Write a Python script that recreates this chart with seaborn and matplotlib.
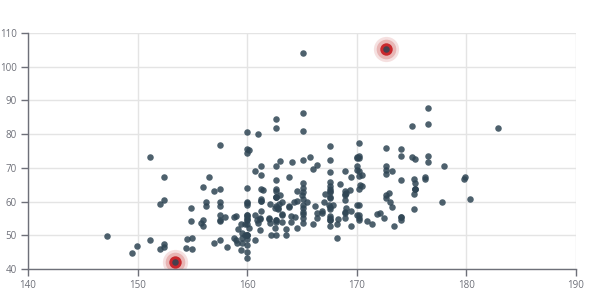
import matplotlib
matplotlib.use("Agg")
import matplotlib.pyplot as plt
import seaborn as sns
import pandas as pd

heights = [161.2, 167.5, 159.5, 157.0, 155.8, 170.0, 159.1, 166.0, 176.2, 160.2,
           172.5, 170.9, 172.9, 153.4, 160.0, 147.2, 168.2, 175.0, 157.0, 167.6,
           159.5, 175.0, 166.8, 176.5, 170.2, 174.0, 173.0, 179.9, 170.5, 160.0,
           154.4, 162.0, 176.5, 160.0, 152.0, 162.1, 170.0, 160.2, 161.3, 166.4,
           168.9, 163.8, 167.6, 160.0, 161.3, 167.6, 165.1, 160.0, 170.0, 157.5,
           167.6, 160.7, 163.2, 152.4, 157.5, 168.3, 180.3, 165.5, 165.0, 164.5,
           156.0, 160.0, 163.0, 165.7, 161.0, 162.0, 166.0, 174.0, 172.7, 167.6,
           151.1, 164.5, 163.5, 152.0, 169.0, 164.0, 161.2, 155.0, 170.0, 176.2,
           170.0, 162.5, 170.3, 164.1, 169.5, 163.2, 154.5, 159.8, 173.2, 170.0,
           161.4, 169.0, 166.2, 159.4, 162.5, 159.0, 162.8, 159.0, 179.8, 162.9,
           161.0, 151.1, 168.2, 168.9, 173.2, 171.8, 178.0, 164.3, 163.0, 168.5,
           166.8, 172.7, 163.5, 169.4, 167.8, 159.5, 167.6, 161.2, 160.0, 163.2,
           162.2, 161.3, 149.5, 157.5, 163.2, 172.7, 155.0, 156.5, 164.0, 160.9,
           162.8, 167.0, 160.0, 160.0, 168.9, 158.2, 156.0, 160.0, 167.1, 158.0,
           167.6, 156.0, 162.1, 173.4, 159.8, 170.5, 159.2, 157.5, 161.3, 162.6,
           160.0, 168.9, 165.1, 162.6, 165.1, 166.4, 160.0, 152.4, 170.2, 162.6,
           170.2, 158.8, 172.7, 167.6, 162.6, 167.6, 156.2, 175.2, 172.1, 162.6,
           160.0, 165.1, 182.9, 166.4, 165.1, 177.8, 165.1, 175.3, 154.9, 158.8,
           172.7, 168.9, 161.3, 167.6, 165.1, 175.3, 157.5, 163.8, 167.6, 165.1,
           165.1, 168.9, 162.6, 164.5, 176.5, 168.9, 175.3, 159.4, 160.0, 170.2,
           162.6, 167.6, 162.6, 160.7, 160.0, 157.5, 162.6, 152.4, 170.2, 165.1,
           172.7, 165.1, 170.2, 170.2, 170.2, 161.3, 167.6, 167.6, 165.1, 162.6,
           152.4, 168.9, 170.2, 175.2, 175.2, 160.0, 165.1, 174.0, 170.2, 160.0,
           167.6, 167.6, 167.6, 154.9, 162.6, 175.3, 171.4, 157.5, 165.1, 160.0,
           174.0, 162.6, 174.0, 162.6, 161.3, 156.2, 149.9, 169.5, 160.0, 175.3,
           169.5, 160.0, 172.7, 162.6, 157.5, 176.5, 164.4, 160.7, 174.0, 163.8]
weights = [51.6, 59.0, 49.2, 63.0, 53.6, 59.0, 47.6, 69.8, 66.8, 75.2,
           55.2, 54.2, 62.5, 42.0, 50.0, 49.8, 49.2, 73.2, 47.8, 68.8,
           50.6, 82.5, 57.2, 87.8, 72.8, 54.5, 59.8, 67.3, 67.8, 47.0,
           46.2, 55.0, 83.0, 54.4, 45.8, 53.6, 73.2, 52.1, 67.9, 56.6,
           62.3, 58.5, 54.5, 50.2, 60.3, 58.3, 56.2, 50.2, 72.9, 59.8,
           61.0, 69.1, 55.9, 46.5, 54.3, 54.8, 60.7, 60.0, 62.0, 60.3,
           52.7, 74.3, 62.0, 73.1, 80.0, 54.7, 53.2, 75.7, 61.1, 55.7,
           48.7, 52.3, 50.0, 59.3, 62.5, 55.7, 54.8, 45.9, 70.6, 67.2,
           69.4, 58.2, 64.8, 71.6, 52.8, 59.8, 49.0, 50.0, 69.2, 55.9,
           63.4, 58.2, 58.6, 45.7, 52.2, 48.6, 57.8, 55.6, 66.8, 59.4,
           53.6, 73.2, 53.4, 69.0, 58.4, 56.2, 70.6, 59.8, 72.0, 65.2,
           56.6, 105.2, 51.8, 63.4, 59.0, 47.6, 63.0, 55.2, 45.0, 54.0,
           50.2, 60.2, 44.8, 58.8, 56.4, 62.0, 49.2, 67.2, 53.8, 54.4,
           58.0, 59.8, 54.8, 43.2, 60.5, 46.4, 64.4, 48.8, 62.2, 55.5,
           57.8, 54.6, 59.2, 52.7, 53.2, 64.5, 51.8, 56.0, 63.6, 63.2,
           59.5, 56.8, 64.1, 50.0, 72.3, 55.0, 55.9, 60.4, 69.1, 84.5,
           55.9, 55.5, 69.5, 76.4, 61.4, 65.9, 58.6, 66.8, 56.6, 58.6,
           55.9, 59.1, 81.8, 70.7, 56.8, 60.0, 58.2, 72.7, 54.1, 49.1,
           75.9, 55.0, 57.3, 55.0, 65.5, 65.5, 48.6, 58.6, 63.6, 55.2,
           62.7, 56.6, 53.9, 63.2, 73.6, 62.0, 63.6, 53.2, 53.4, 55.0,
           70.5, 54.5, 54.5, 55.9, 59.0, 63.6, 54.5, 47.3, 67.7, 80.9,
           70.5, 60.9, 63.6, 54.5, 59.1, 70.5, 52.7, 62.7, 86.3, 66.4,
           67.3, 63.0, 73.6, 62.3, 57.7, 55.4, 104.1, 55.5, 77.3, 80.5,
           64.5, 72.3, 61.4, 58.2, 81.8, 63.6, 53.4, 54.5, 53.6, 60.0,
           73.6, 61.4, 55.5, 63.6, 60.9, 60.0, 46.8, 57.3, 64.1, 63.6,
           67.3, 75.5, 68.2, 61.4, 76.8, 71.8, 55.5, 48.6, 66.4, 67.3]

effect_x = [172.7, 153.4]
effect_y = [105.2, 42.0]

x_ticks = [140, 150, 160, 170, 180, 190]
y_ticks = [40, 50, 60, 70, 80, 90, 100, 110]

df = pd.DataFrame({"height": heights, "weight": weights})
eff = pd.DataFrame({"height": effect_x, "weight": effect_y})

sns.set_theme(style="white")
plt.rcParams["font.family"] = ["Open Sans", "DejaVu Sans"]

fig = plt.figure(figsize=(5.9, 3.0), dpi=100)
ax = fig.add_axes([28 / 590, 31 / 300, 548 / 590, 236 / 300])

# ripple rings of effect scatter
for size, alpha in [(330, 0.15), (200, 0.25)]:
    sns.scatterplot(data=eff, x="height", y="weight", ax=ax, s=size,
                    color="#c23531", alpha=alpha, linewidth=0, zorder=3,
                    legend=False)
sns.scatterplot(data=eff, x="height", y="weight", ax=ax, s=80,
                color="#c9282d", alpha=1.0, linewidth=0, zorder=4, legend=False)

sns.scatterplot(data=df, x="height", y="weight", ax=ax, s=22,
                color="#2f4554", alpha=0.85, linewidth=0, zorder=5, legend=False)

ax.set_xlim(140, 190)
ax.set_ylim(40, 110)
ax.set_xticks(x_ticks)
ax.set_yticks(y_ticks)
ax.set_xticklabels([str(t) for t in x_ticks])
ax.set_yticklabels([str(t) for t in y_ticks])
ax.set_xlabel("")
ax.set_ylabel("")

ax.grid(True, color="#E4E4E4", linewidth=1)
ax.set_axisbelow(True)
for side in ["top", "right"]:
    ax.spines[side].set_visible(False)
for side in ["left", "bottom"]:
    ax.spines[side].set_color("#6E7079")
    ax.spines[side].set_linewidth(1)
    ax.spines[side].set_zorder(6)

ax.tick_params(axis="both", which="major", length=5, width=1, color="#6E7079",
               labelcolor="#6E7079", labelsize=7, direction="out", pad=3)
ax.tick_params(axis="x", bottom=True)
ax.tick_params(axis="y", left=True)

fig.savefig("out.png", dpi=100)
